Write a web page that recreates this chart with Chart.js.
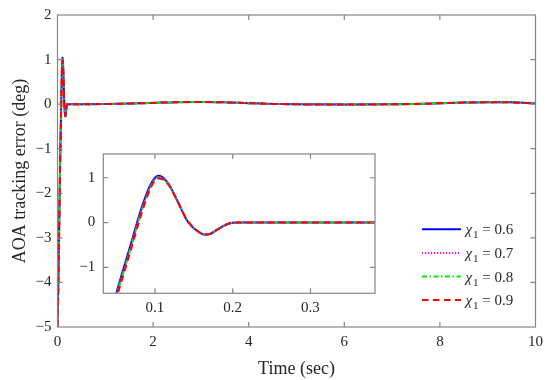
<!DOCTYPE html>
<html><head><meta charset="utf-8">
<script src="https://cdn.jsdelivr.net/npm/chart.js@4.4.1/dist/chart.umd.min.js"></script>
<style>
html,body{margin:0;padding:0;background:#fff;}
#wrap{position:relative;width:550px;height:380px;}
canvas{position:absolute;left:0;top:0;}
</style></head><body>
<div id="wrap"><canvas id="main" width="550" height="380"></canvas><canvas id="inset" width="550" height="380"></canvas></div>
<script>
// ---- data ----
const time = [0, 0.01, 0.02, 0.03, 0.04, 0.05, 0.06, 0.07, 0.08, 0.09, 0.095, 0.1, 0.105, 0.11, 0.115, 0.12, 0.13, 0.14, 0.145, 0.15, 0.16, 0.165, 0.17, 0.18, 0.19, 0.2, 0.21, 0.22, 0.25, 0.3, 0.5, 1, 1.5, 2, 2.5, 3, 3.5, 4, 4.5, 5, 6, 7, 7.5, 8, 8.5, 9, 9.5, 10];
const errChi06 = [-5.0, -4.45, -3.82, -3.1, -2.34, -1.6, -1.0, -0.42, 0.18, 0.68, 0.87, 1.0, 1.045, 1.01, 0.92, 0.79, 0.44, 0.08, -0.04, -0.13, -0.25, -0.27, -0.26, -0.16, -0.06, -0.005, 0.003, 0.0, 0.0, 0.0, 0.0, 0.002, 0.012, 0.028, 0.045, 0.05, 0.04, 0.022, 0.006, -0.004, -0.008, -0.003, 0.006, 0.02, 0.035, 0.045, 0.04, 0.015];
const errChi07 = [-5.0, -4.48, -3.86, -3.14, -2.38, -1.64, -1.04, -0.46, 0.14, 0.65, 0.85, 0.98, 1.025, 0.995, 0.91, 0.785, 0.44, 0.085, -0.035, -0.13, -0.25, -0.27, -0.26, -0.16, -0.06, -0.005, 0.003, 0.0, 0.0, 0.0, 0.0, 0.002, 0.012, 0.028, 0.045, 0.05, 0.04, 0.022, 0.006, -0.004, -0.008, -0.003, 0.006, 0.02, 0.035, 0.045, 0.04, 0.015];
const errChi08 = [-5.0, -4.52, -3.9, -3.18, -2.42, -1.68, -1.08, -0.5, 0.1, 0.62, 0.82, 0.96, 1.005, 0.98, 0.9, 0.78, 0.44, 0.09, -0.03, -0.125, -0.25, -0.27, -0.26, -0.16, -0.06, -0.005, 0.003, 0.0, 0.0, 0.0, 0.0, 0.002, 0.012, 0.028, 0.045, 0.05, 0.04, 0.022, 0.006, -0.004, -0.008, -0.003, 0.006, 0.02, 0.035, 0.045, 0.04, 0.015];
const errChi09 = [-5.0, -4.56, -3.95, -3.23, -2.47, -1.73, -1.13, -0.55, 0.05, 0.58, 0.79, 0.94, 0.985, 0.965, 0.89, 0.775, 0.44, 0.095, -0.025, -0.12, -0.25, -0.27, -0.26, -0.16, -0.06, -0.005, 0.003, 0.0, 0.0, 0.0, 0.0, 0.002, 0.012, 0.028, 0.045, 0.05, 0.04, 0.022, 0.006, -0.004, -0.008, -0.003, 0.006, 0.02, 0.035, 0.045, 0.04, 0.015];
const chiValues = ['0.6', '0.7', '0.8', '0.9'];
const mainXTicks = [0, 2, 4, 6, 8, 10];
const mainYTicks = [-5, -4, -3, -2, -1, 0, 1, 2];
const insetXTicks = [0.1, 0.2, 0.3];
const insetYTicks = [-1, 0, 1];

// ---- styles ----
const SERIF = "'Liberation Serif', 'DejaVu Serif', serif";
const TXT = '#262626';
const FRAME = '#858585';
const styles = [
  {color: '#0000ff', dash: []},
  {color: '#ff00ff', dash: [1.2, 1.8]},
  {color: '#00ee00', dash: [5, 2.5, 1.5, 2.5]},
  {color: '#ff0000', dash: [6.5, 4.5]}
];
const seriesData = [errChi06, errChi07, errChi08, errChi09];

function makeDatasets() {
  return seriesData.map((arr, i) => ({
    label: 'χ1 = ' + chiValues[i],
    data: time.map((t, k) => ({x: t, y: arr[k]})),
    borderColor: styles[i].color,
    borderDash: styles[i].dash,
    borderWidth: 2,
    pointRadius: 0,
    fill: false,
    order: seriesData.length - i,
    cubicInterpolationMode: 'monotone'
  }));
}
const fmt = v => (v < 0 ? '\u2212' + Math.abs(v) : String(v));

function axis(min, max, ticksArr, pad, fitProp, fitVal, title) {
  const o = {
    type: 'linear', min, max,
    grid: {display: false, drawTicks: false},
    border: {display: false},
    afterBuildTicks: s => { s.ticks = ticksArr.map(v => ({value: v})); },
    ticks: {font: {family: SERIF, size: 15}, color: TXT, padding: pad, maxRotation: 0, autoSkip: false, callback: fmt},
    afterFit: s => { s[fitProp] = fitVal; }
  };
  if (title) o.title = title;
  return o;
}

const framePlugin = {
  id: 'frame',
  beforeDraw(chart, args, opts) {
    if (opts.fill) {
      const a = chart.chartArea, ctx = chart.ctx;
      ctx.save(); ctx.fillStyle = '#fff';
      ctx.fillRect(a.left, a.top, a.right - a.left, a.bottom - a.top);
      ctx.restore();
    }
  },
  afterDatasetsDraw(chart, args, opts) {
    const {ctx, chartArea: a, scales} = chart;
    const L = 5;
    ctx.save();
    ctx.strokeStyle = FRAME; ctx.lineWidth = 1.2;
    ctx.beginPath();
    scales.x.ticks.forEach(t => {
      const px = scales.x.getPixelForValue(t.value);
      if (px <= a.left + 1 || px >= a.right - 1) return;
      ctx.moveTo(px, a.bottom); ctx.lineTo(px, a.bottom - L);
      ctx.moveTo(px, a.top); ctx.lineTo(px, a.top + L);
    });
    scales.y.ticks.forEach(t => {
      const py = scales.y.getPixelForValue(t.value);
      if (py <= a.top + 1 || py >= a.bottom - 1) return;
      ctx.moveTo(a.left, py); ctx.lineTo(a.left + L, py);
      ctx.moveTo(a.right, py); ctx.lineTo(a.right - L, py);
    });
    ctx.stroke();
    ctx.strokeRect(a.left, a.top, a.right - a.left, a.bottom - a.top);
    ctx.restore();
  }
};

const legendPlugin = {
  id: 'miniLegend',
  afterDraw(chart) {
    const {ctx, chartArea: a} = chart;
    const x0 = a.right - 113.5, x1 = a.right - 74.5, tx = a.right - 70;
    const y0 = a.top + 214.3, dy = 23.6;
    chart.data.datasets.forEach((ds, i) => {
      const y = y0 + i * dy;
      ctx.save();
      ctx.strokeStyle = ds.borderColor; ctx.lineWidth = 2; ctx.setLineDash(ds.borderDash);
      ctx.beginPath(); ctx.moveTo(x0, y); ctx.lineTo(x1, y); ctx.stroke();
      ctx.setLineDash([]);
      ctx.fillStyle = TXT; ctx.textBaseline = 'alphabetic'; ctx.textAlign = 'left';
      const base = y + 5;
      ctx.font = 'italic 15px ' + SERIF;
      ctx.fillText('χ', tx, base);
      let w = ctx.measureText('χ').width;
      ctx.font = '11px ' + SERIF;
      ctx.fillText('1', tx + w + 1, base + 4);
      w += 1 + ctx.measureText('1').width;
      ctx.font = '15px ' + SERIF;
      ctx.fillText(' = ' + chiValues[i], tx + w, base);
      ctx.restore();
    });
  }
};

new Chart(document.getElementById('main'), {
  type: 'line',
  data: {datasets: makeDatasets()},
  options: {
    responsive: false, animation: false, events: [],
    layout: {padding: {left: 0, top: 15, right: 14.5, bottom: 0}},
    plugins: {legend: {display: false}, tooltip: {enabled: false}, frame: {fill: false}},
    scales: {
      x: axis(0, 10, mainXTicks, 6, 'height', 53,
        {display: true, text: 'Time (sec)', color: TXT, font: {family: SERIF, size: 18}, padding: {top: 0, bottom: 0}}),
      y: axis(-5, 2, mainYTicks, 6, 'width', 57.5,
        {display: true, text: 'AOA tracking error (deg)', color: TXT, font: {family: SERIF, size: 18}, padding: {top: 9, bottom: 0}})
    }
  },
  plugins: [framePlugin, legendPlugin]
});

new Chart(document.getElementById('inset'), {
  type: 'line',
  data: {datasets: makeDatasets()},
  options: {
    responsive: false, animation: false, events: [],
    layout: {padding: {left: 0, top: 154, right: 175, bottom: 0}},
    plugins: {legend: {display: false}, tooltip: {enabled: false}, frame: {fill: true}},
    scales: {
      x: axis(0.0335, 0.383, insetXTicks, 6, 'height', 86.7),
      y: axis(-1.58, 1.53, insetYTicks, 8, 'width', 103.3)
    }
  },
  plugins: [framePlugin]
});
</script>
</body></html>
